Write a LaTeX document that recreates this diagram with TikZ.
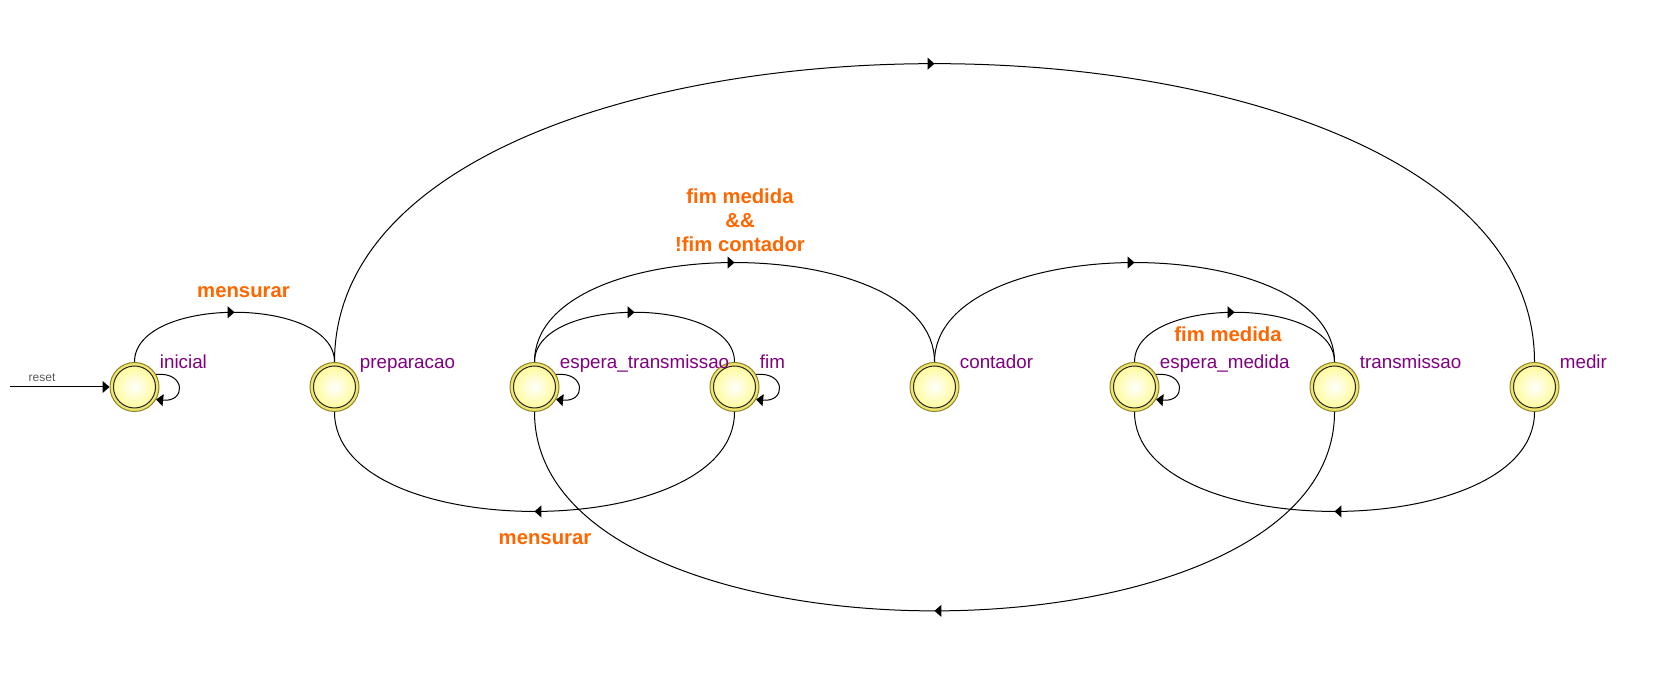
\documentclass[tikz,border=0pt]{standalone}
\usepackage{fontspec}
\usetikzlibrary{arrows.meta,decorations.markings}
\newfontfamily\rotulo{Liberation Sans}
\definecolor{laranja}{RGB}{255,102,0}
\definecolor{roxo}{RGB}{128,0,128}
\definecolor{amarelo}{RGB}{255,250,140}
\definecolor{anel}{RGB}{240,230,110}
\definecolor{contorno}{RGB}{140,130,40}
\tikzset{
	estado/.style={circle, minimum size=24.5pt, inner sep=0pt, draw=contorno, fill=anel, line width=0.5pt,
		path picture={\shade[inner color=white, outer color=amarelo] (path picture bounding box.center) circle (10.5pt);
			\draw[black!85, line width=0.5pt] (path picture bounding box.center) circle (10.5pt);}},
	nome/.style={anchor=base west, inner sep=0pt, text=roxo, font=\rotulo\fontsize{9.4pt}{11pt}\selectfont},
	condicao/.style={inner sep=0pt, text=laranja, align=center, font=\rotulo\bfseries\fontsize{10.15pt}{12pt}\selectfont},
	ponta/.style={-{Triangle[length=3.5pt, width=6pt]}},
	meio/.style={decoration={markings, mark=at position 0.5 with {\arrow{Triangle[length=3.5pt, width=6pt]}}}, postaction=decorate},
	arco/.style={meio, line width=0.5pt, looseness=0.85},
	laco/.style={ponta, line width=0.5pt}
}
\begin{document}
\begin{tikzpicture}[x=0.5pt, y=0.5pt]
			\useasboundingbox (0,0) rectangle (1668,699);
			%%%%% START %%%%%
			
			\node[estado] (inicial) at (134.5,312) {};
			\node[estado] (preparacao) at (334.5,312) {};
			\node[estado] (espera-transmissao) at (534.5,312) {};
			\node[estado] (fim) at (734.5,312) {};
			\node[estado] (contador) at (934.5,312) {};
			\node[estado] (espera-medida) at (1134.5,312) {};
			\node[estado] (transmissao) at (1334.5,312) {};
			\node[estado] (medir) at (1534.5,312) {};
			
			\node[nome] (n-inicial) at ([yshift=9pt]inicial.east) {inicial};
			\node[nome] (n-preparacao) at ([yshift=9pt]preparacao.east) {preparacao};
			\node[nome] (n-espera-transmissao) at ([yshift=9pt]espera-transmissao.east) {espera\_transmissao};
			\node[nome] (n-fim) at ([yshift=9pt]fim.east) {fim};
			\node[nome] (n-contador) at ([yshift=9pt]contador.east) {contador};
			\node[nome] (n-espera-medida) at ([yshift=9pt]espera-medida.east) {espera\_medida};
			\node[nome] (n-transmissao) at ([yshift=9pt]transmissao.east) {transmissao};
			\node[nome] (n-medir) at ([yshift=9pt]medir.east) {medir};
			
			% reset
			\coordinate (reset) at (10,312);
			\draw[ponta, line width=0.5pt] (reset) -- (inicial);
			\node[anchor=base, inner sep=0pt, text=black!65, font=\rotulo\fontsize{6pt}{7pt}\selectfont] (n-reset) at (42,317) {reset};
			
			% arcos de cima
			\draw[arco] (inicial.north) to[out=90, in=90] (preparacao.north);
			\draw[arco] (preparacao.north) to[out=90, in=90] (medir.north);
			\draw[arco] (espera-transmissao.north) to[out=90, in=90] (fim.north);
			\draw[arco] (espera-transmissao.north) to[out=90, in=90] (contador.north);
			\draw[arco] (contador.north) to[out=90, in=90] (transmissao.north);
			\draw[arco] (espera-medida.north) to[out=90, in=90] (transmissao.north);
			
			% arcos de baixo
			\draw[arco] (fim.south) to[out=-90, in=-90] (preparacao.south);
			\draw[arco] (transmissao.south) to[out=-90, in=-90] (espera-transmissao.south);
			\draw[arco] (medir.south) to[out=-90, in=-90] (espera-medida.south);
			
			% lacos
			\draw[laco] (inicial.30) .. controls +(30,3) and +(30,-3) .. (inicial.-30);
			\draw[laco] (espera-transmissao.30) .. controls +(30,3) and +(30,-3) .. (espera-transmissao.-30);
			\draw[laco] (fim.30) .. controls +(30,3) and +(30,-3) .. (fim.-30);
			\draw[laco] (espera-medida.30) .. controls +(30,3) and +(30,-3) .. (espera-medida.-30);
			
			\node[condicao, anchor=base] (c-mensurar) at (243.5,401.7) {mensurar};
			\node[condicao, anchor=base] (c-mensurar-fim) at (545,154) {mensurar};
			\node[condicao, anchor=base] (c-fim-medida) at (1228,357.3) {fim medida};
			\node[condicao, anchor=south] (c-contador) at (740,447.3) {fim medida\\\&\&\\!fim contador};
			
			%%%%% END %%%%%
		\end{tikzpicture}
\end{document}
